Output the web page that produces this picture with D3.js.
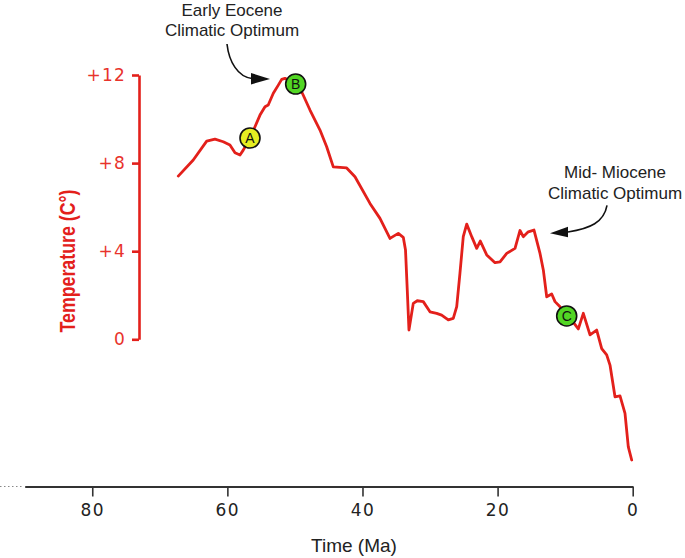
<!DOCTYPE html>
<html>
<head>
<meta charset="utf-8">
<script src="https://cdn.jsdelivr.net/npm/d3@7"></script>
<style>
  html, body { margin: 0; padding: 0; background: #fff; }
  svg { display: block; }
</style>
</head>
<body>
<script>
// ---- Data ----
const ages = [67.27, 65.05, 63.06, 61.84, 60.61, 59.62, 58.87, 58.13, 57.65, 56.65, 55.91, 55.17, 54.43, 53.95, 53.2, 52.46, 51.96, 51.47, 49.89, 49.0, 47.77, 46.29, 45.3, 44.32, 42.34, 41.11, 38.89, 37.41, 35.93, 34.7, 33.96, 33.63, 33.37, 33.12, 32.48, 31.89, 31.0, 30.01, 29.02, 28.28, 27.3, 26.56, 26.05, 25.57, 25.08, 24.57, 23.83, 23.09, 22.56, 21.61, 20.38, 19.64, 18.65, 17.42, 16.68, 16.2, 15.46, 14.61, 13.72, 13.23, 12.73, 11.99, 11.5, 10.76, 9.77, 8.84, 8.05, 7.31, 6.32, 5.33, 4.59, 3.85, 3.36, 2.62, 1.88, 1.14, 0.65, 0.15];
const temps = [7.41, 8.14, 9.0, 9.09, 8.97, 8.82, 8.47, 8.37, 8.59, 9.14, 9.65, 10.18, 10.56, 10.64, 11.17, 11.54, 11.8, 11.85, 11.59, 11.24, 10.41, 9.5, 8.74, 7.83, 7.78, 7.38, 6.17, 5.49, 4.58, 4.81, 4.63, 4.05, 2.24, 0.42, 1.63, 1.75, 1.71, 1.25, 1.18, 1.10, 0.88, 0.95, 1.48, 3.0, 4.66, 5.23, 4.66, 4.13, 4.46, 3.83, 3.48, 3.52, 3.9, 4.13, 4.94, 4.66, 4.88, 4.96, 3.9, 3.15, 1.93, 2.06, 1.71, 1.48, 1.06, 0.79, 0.47, 1.18, 0.2, 0.42, -0.42, -0.71, -1.17, -2.61, -2.57, -3.36, -4.88, -5.48];

const markerLabels = ["A", "B", "C"];
const markerAges = [56.65, 49.89, 9.77];
const markerTemps = [9.14, 11.59, 1.06];
const markerColors = ["#e6ee22", "#52d624", "#52d624"];

const xTicks = [80, 60, 40, 20, 0];
const xTickLabels = ["80", "60", "40", "20", "0"];
const yTicks = [0, 4, 8, 12];
const yTickLabels = ["0", "+4", "+8", "+12"];

const annotationLines = [["Early Eocene", "Climatic Optimum"], ["Mid- Miocene", "Climatic Optimum"]];
const annotationTipAges = [53.69, 12.24];
const annotationTipTemps = [11.82, 4.81];

const xTitle = "Time (Ma)";
const yTitle = "Temperature (C°)";

// ---- Layout ----
const W = 685, H = 558;
const RED = "#e3201b";
const svg = d3.select("body").append("svg").attr("width", W).attr("height", H);

const x = d3.scaleLinear().domain([90, 0]).range([24.7, 632.7]);
const y = d3.scaleLinear().domain([0, 12]).range([339.3, 75]);
const axisY = 486.5;

// dotted extension on left of x-axis
svg.append("line")
  .attr("x1", 0).attr("x2", 22).attr("y1", axisY).attr("y2", axisY)
  .attr("stroke", "#888").attr("stroke-width", 1).attr("stroke-dasharray", "1.5,2.5");

// x axis
const gx = svg.append("g").attr("transform", `translate(0,${axisY})`)
  .call(d3.axisBottom(x).tickValues(xTicks).tickSize(10).tickSizeOuter(0).tickPadding(7)
    .tickFormat((d, i) => xTickLabels[i]));
gx.select(".domain").attr("stroke", "#333").attr("stroke-width", 2);
gx.selectAll(".tick line").attr("stroke", "#333").attr("stroke-width", 1.6);
gx.selectAll(".tick text").attr("fill", "#222")
  .style("font-family", "'DejaVu Sans', sans-serif").style("font-size", "17px")
  .style("letter-spacing", "1.5px");

svg.append("text").attr("x", 354).attr("y", 552).attr("text-anchor", "middle")
  .style("font-family", "'Liberation Sans', Arial, sans-serif").style("font-size", "19px")
  .attr("fill", "#222").text(xTitle);

// y axis
const gy = svg.append("g").attr("transform", `translate(139,0)`)
  .call(d3.axisLeft(y).tickValues(yTicks).tickSize(7).tickSizeOuter(0).tickPadding(6)
    .tickFormat((d, i) => yTickLabels[i]));
gy.select(".domain").attr("stroke", RED).attr("stroke-width", 2.6);
gy.selectAll(".tick line").attr("stroke", RED).attr("stroke-width", 2.6);
gy.selectAll(".tick text").attr("fill", "#e8332c")
  .style("font-family", "'DejaVu Sans', sans-serif").style("font-size", "17px")
  .style("letter-spacing", "1.2px");

svg.append("text").attr("transform", "translate(75,261) rotate(-90)")
  .attr("text-anchor", "middle")
  .attr("textLength", 143).attr("lengthAdjust", "spacingAndGlyphs")
  .style("font-family", "'Liberation Sans', Arial, sans-serif").style("font-size", "22px")
  .style("font-weight", "bold").attr("fill", RED).text(yTitle);

// temperature curve
const pts = ages.map((a, i) => [a, temps[i]]);
svg.append("path").datum(pts)
  .attr("fill", "none").attr("stroke", RED).attr("stroke-width", 2.8)
  .attr("stroke-linejoin", "round").attr("stroke-linecap", "round")
  .attr("d", d3.line().x(d => x(d[0])).y(d => y(d[1])).curve(d3.curveLinear));

// markers
const mk = svg.selectAll("g.mk").data(markerLabels).enter().append("g")
  .attr("transform", (d, i) => `translate(${x(markerAges[i])},${y(markerTemps[i])})`);
mk.append("circle").attr("r", 10).attr("fill", (d, i) => markerColors[i])
  .attr("stroke", "#111").attr("stroke-width", 1.6);
mk.append("text").attr("text-anchor", "middle").attr("dy", "0.36em")
  .style("font-family", "'Liberation Sans', Arial, sans-serif").style("font-size", "14px")
  .attr("fill", "#111").text(d => d);

// annotations with curved arrows
const arrowShapes = [
  { start: [-43, -35], c1: [-41, -17], c2: [-32, -2], end: [-18, -0.5], back1: [-19, -6], back2: [-19, 5.5], text: [-38, -63] },
  { start: [57, -28], c1: [54, -11], c2: [40, -5], end: [18, -1.3], back1: [18, -6.5], back2: [18, 4], text: [65, -55.3] }
];
annotationLines.forEach((lines, i) => {
  const tx = x(annotationTipAges[i]), ty = y(annotationTipTemps[i]);
  const s = arrowShapes[i];
  const P = p => `${tx + p[0]},${ty + p[1]}`;
  svg.append("path")
    .attr("d", `M${P(s.start)} C${P(s.c1)} ${P(s.c2)} ${P(s.end)}`)
    .attr("fill", "none").attr("stroke", "#111").attr("stroke-width", 1.6);
  svg.append("polygon")
    .attr("points", `${P([0, 0])} ${P(s.back1)} ${P(s.back2)}`)
    .attr("fill", "#111");
  const t = svg.append("text").attr("text-anchor", "middle")
    .style("font-family", "'Liberation Sans', Arial, sans-serif").style("font-size", "17px")
    .attr("fill", "#222");
  lines.forEach((ln, j) => {
    t.append("tspan").attr("x", tx + s.text[0]).attr("y", ty + s.text[1] + j * 20.5).text(ln);
  });
});
</script>
</body>
</html>
